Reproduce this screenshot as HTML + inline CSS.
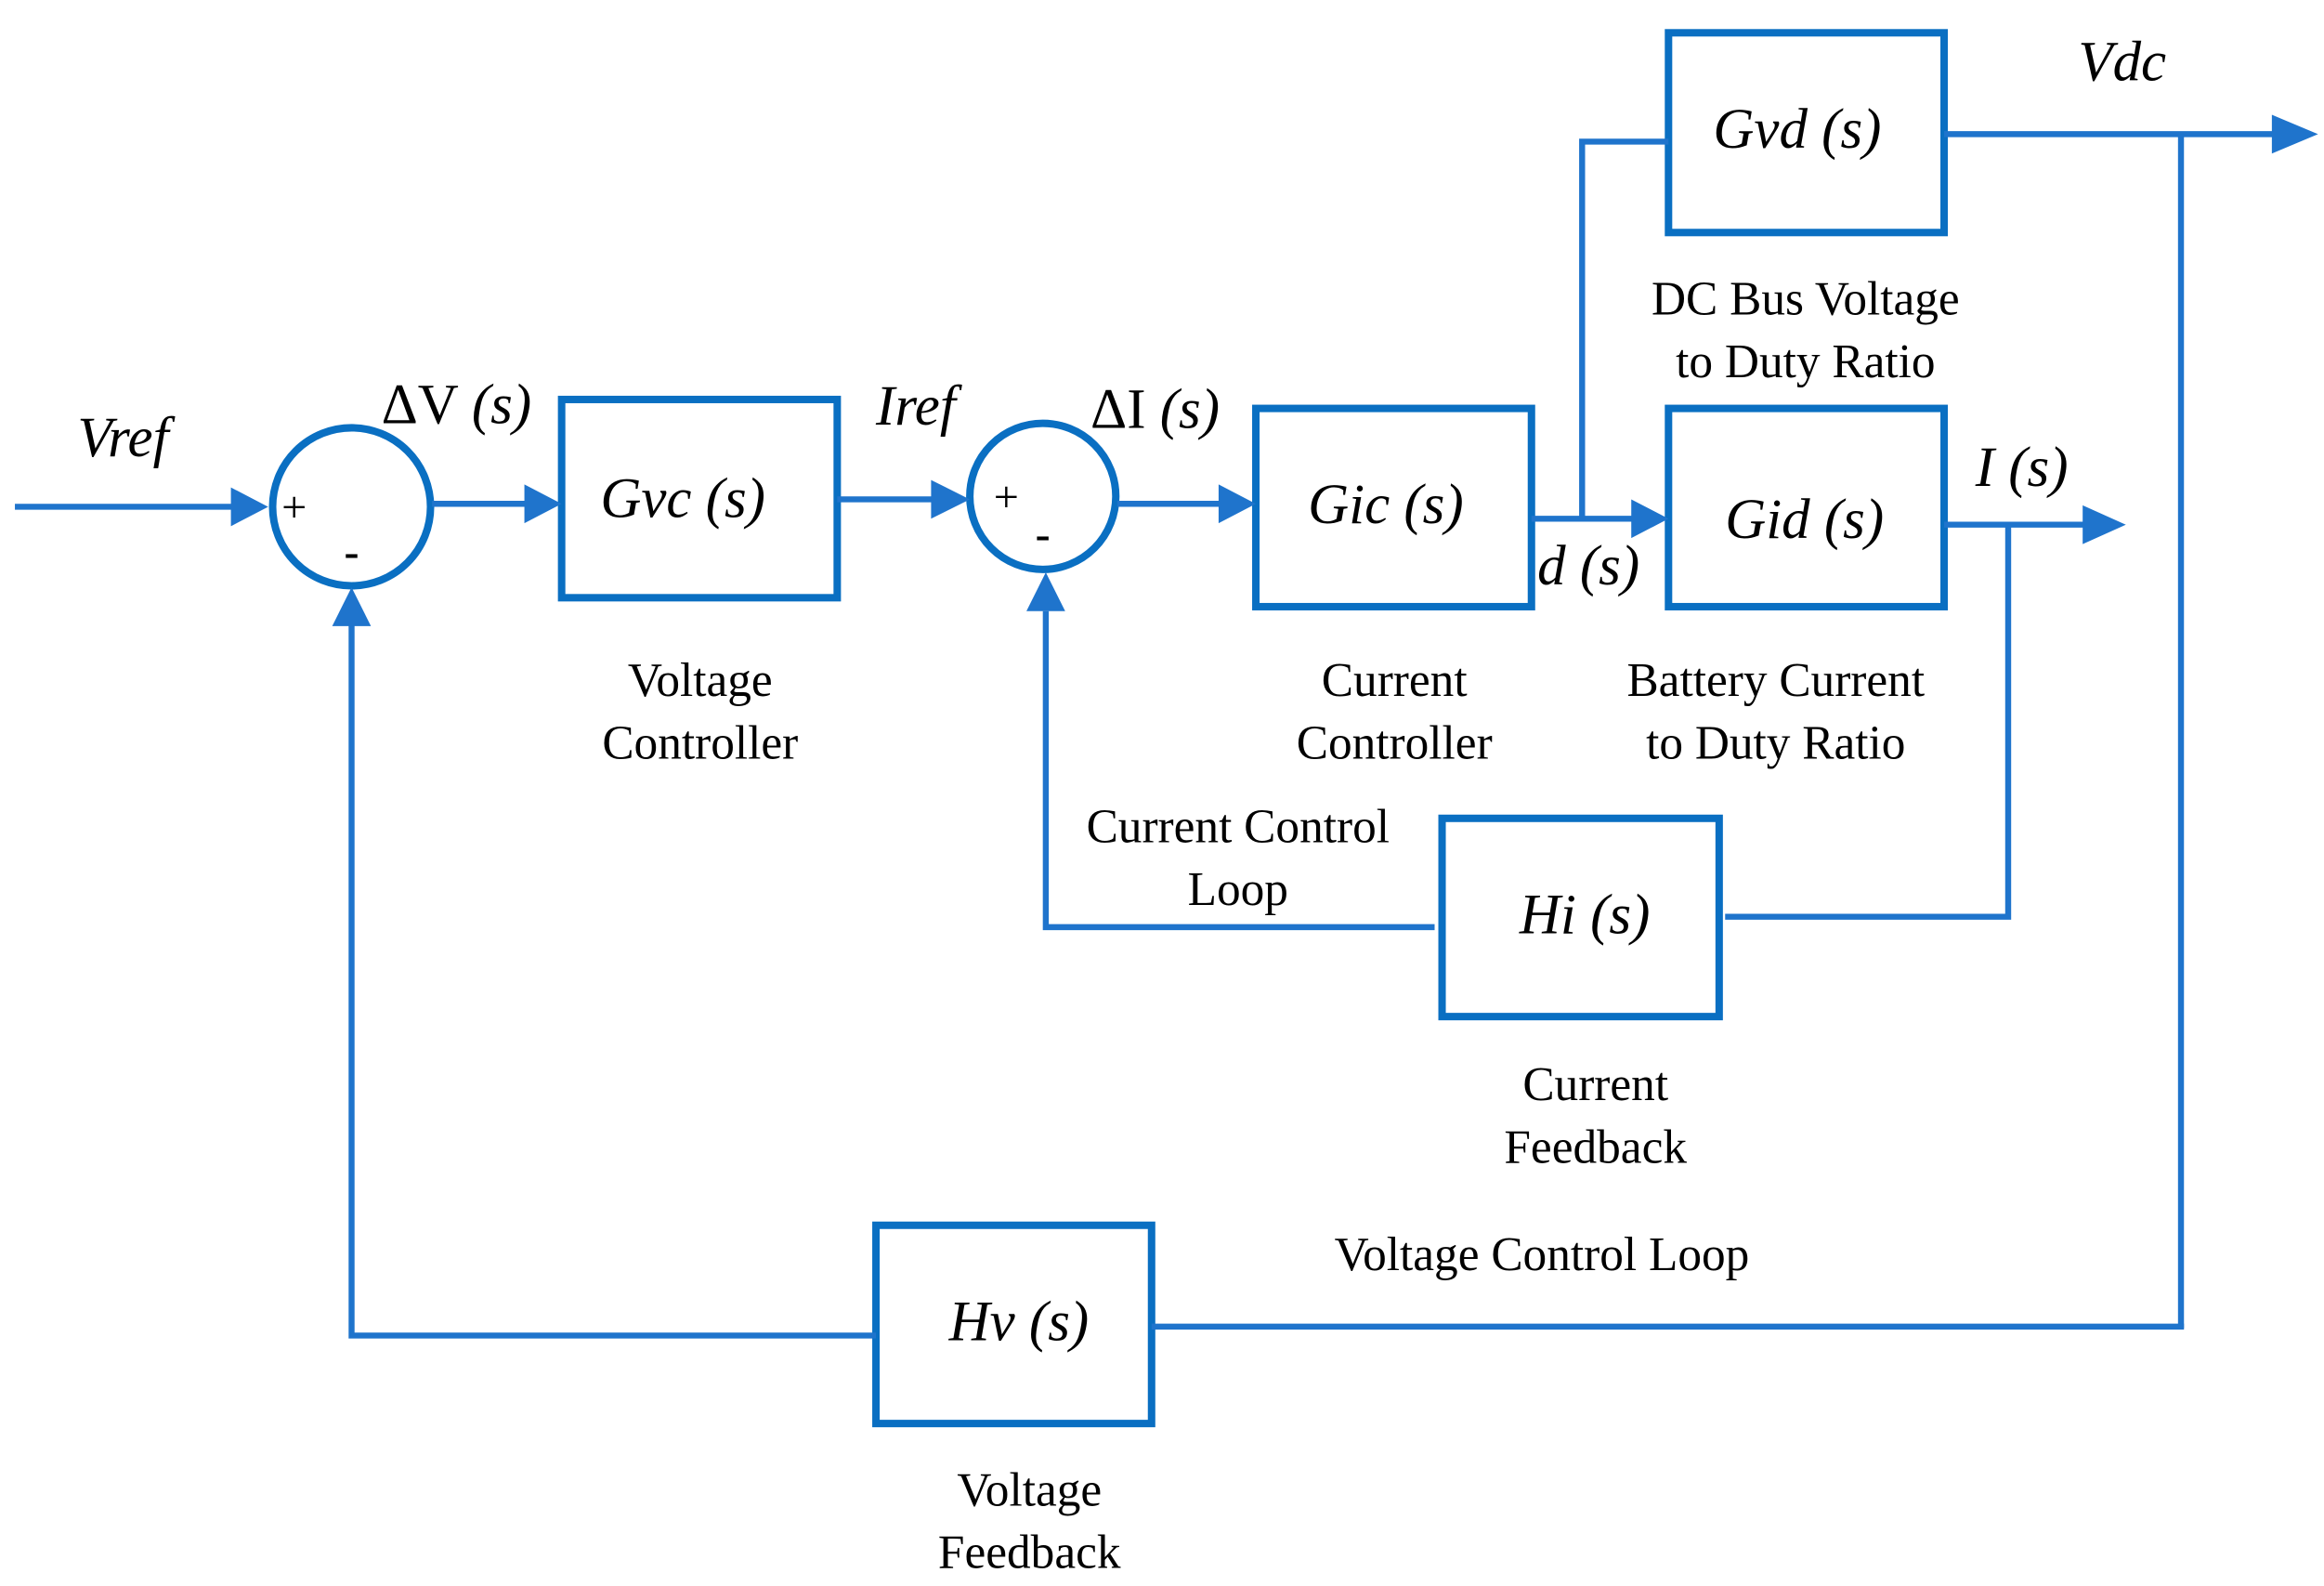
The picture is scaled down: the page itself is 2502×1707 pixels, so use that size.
<!DOCTYPE html>
<html><head><meta charset="utf-8"><style>
html,body{margin:0;padding:0;background:#fff}
svg{display:block}
text{font-family:"Liberation Serif",serif;fill:#000}
.i{font-style:italic}
</style></head><body>
<svg width="2502" height="1707" viewBox="0 0 1560 1064" preserveAspectRatio="none" xmlns="http://www.w3.org/2000/svg">
<g fill="none" stroke="#0a6fc2" stroke-width="5">
<rect x="377" y="268" width="185" height="133"/>
<rect x="843" y="274" width="185" height="133"/>
<rect x="1120" y="22" width="185" height="134"/>
<rect x="1120" y="274" width="185" height="133"/>
<rect x="968" y="549" width="186" height="133"/>
<rect x="588" y="822" width="185" height="133"/>
<ellipse cx="236" cy="340" rx="53" ry="53"/>
<ellipse cx="700" cy="333" rx="49" ry="49"/>
</g>
<g fill="none" stroke="#1f74cc" stroke-width="4">
<line x1="10" y1="340" x2="160" y2="340"/>
<line x1="290" y1="338" x2="357" y2="338"/>
<line x1="562" y1="335" x2="630" y2="335"/>
<line x1="750" y1="338" x2="823" y2="338"/>
<line x1="1028" y1="348" x2="1100" y2="348"/>
<polyline points="1062,348 1062,95 1120,95"/>
<line x1="1305" y1="90" x2="1530" y2="90"/>
<line x1="1464" y1="90" x2="1464" y2="891"/>
<line x1="1305" y1="352" x2="1402" y2="352"/>
<polyline points="1348,352 1348,615 1158,615"/>
<polyline points="963,622 702,622 702,410"/>
<line x1="773" y1="890" x2="1466" y2="890"/>
<polyline points="588,896 236,896 236,418"/>
</g>
<g fill="#1f74cc">
<polygon points="155,327 180,340 155,353"/>
<polygon points="352,325 377,338 352,351"/>
<polygon points="625,322 651,335 625,348"/>
<polygon points="818,325 843,338 818,351"/>
<polygon points="1095,335 1120,348 1095,361"/>
<polygon points="1525,77 1556,90 1525,103"/>
<polygon points="1398,339 1427,352 1398,365"/>
<polygon points="689,410 702,384 715,410"/>
<polygon points="223,420 236,394 249,420"/>
</g>
<g font-size="30" font-weight="bold">
<text x="189" y="350" font-weight="normal">+</text>
<text x="231" y="380">-</text>
<text x="667" y="343" font-weight="normal">+</text>
<text x="695" y="368">-</text>
</g>
<g font-size="38" class="i">
<text x="52" y="306" class="i">Vref</text>
<text x="588" y="285" class="i">Iref</text>
<text x="403" y="347" class="i">Gvc (s)</text>
<text x="878" y="351" class="i">Gic (s)</text>
<text x="1150" y="99" class="i">Gvd (s)</text>
<text x="1158" y="361" class="i">Gid (s)</text>
<text x="1020" y="626" class="i">Hi (s)</text>
<text x="637" y="899" class="i">Hv (s)</text>
<text x="1395" y="54" class="i">Vdc</text>
<text x="1326" y="326" class="i">I (s)</text>
<text x="1032" y="392" class="i">d (s)</text>
</g>
<g font-size="38">
<text x="256" y="284">ΔV <tspan font-style="italic">(s)</tspan></text>
<text x="732" y="287">ΔI <tspan font-style="italic">(s)</tspan></text>
</g>
<g font-size="32" text-anchor="middle">
<text x="470" y="467">Voltage</text>
<text x="470" y="509">Controller</text>
<text x="936" y="467">Current</text>
<text x="936" y="509">Controller</text>
<text x="1212" y="211">DC Bus Voltage</text>
<text x="1212" y="253">to Duty Ratio</text>
<text x="1192" y="467">Battery Current</text>
<text x="1192" y="509">to Duty Ratio</text>
<text x="831" y="565">Current Control</text>
<text x="831" y="607">Loop</text>
<text x="1071" y="738">Current</text>
<text x="1071" y="780">Feedback</text>
<text x="1035" y="852">Voltage Control Loop</text>
<text x="691" y="1010">Voltage</text>
<text x="691" y="1052">Feedback</text>
</g>
</svg>
</body></html>
